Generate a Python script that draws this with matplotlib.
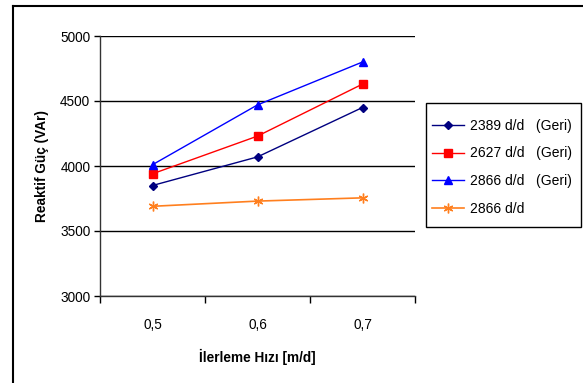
import matplotlib
matplotlib.use("Agg")
import matplotlib.pyplot as plt
from matplotlib.lines import Line2D
from matplotlib.patches import Rectangle

plt.rcParams['font.family'] = ['Liberation Sans', 'DejaVu Sans']

categories = ["0,5", "0,6", "0,7"]
s1 = [3850, 4070, 4450]   # 2389 d/d (Geri)
s2 = [3940, 4230, 4630]   # 2627 d/d (Geri)
s3 = [4010, 4470, 4800]   # 2866 d/d (Geri)
s4 = [3690, 3730, 3755]   # 2866 d/d
labels = ["2389 d/d   (Geri)", "2627 d/d   (Geri)", "2866 d/d   (Geri)", "2866 d/d"]
yticks = [3000, 3500, 4000, 4500, 5000]

W, H = 583, 383
fig = plt.figure(figsize=(W/100, H/100), dpi=100)
ax = fig.add_axes([100/W, 1-296/H, 315/W, 260/H])

x = list(range(len(categories)))
ax.plot(x, s1, color='#000080', marker='D', markersize=4.5, lw=1, label=labels[0])
ax.plot(x, s2, color='#ff0000', marker='s', markersize=5.5, lw=1, label=labels[1])
ax.plot(x, s3, color='#0000ff', marker='^', markersize=6, lw=1, label=labels[2])
ax.plot(x, s4, color='#ff7f1e', marker=(6, 2, 0), markersize=7, lw=1.2, label=labels[3])

ax.set_xlim(-0.5, 2.5)
ax.set_ylim(3000, 5000)
ax.set_yticks(yticks)
ax.set_yticklabels([str(v) for v in yticks], fontsize=9.8)
ax.yaxis.grid(True, color='black', lw=1)
ax.set_axisbelow(True)

ax.set_xticks([-0.5, 0.5, 1.5, 2.5])
ax.set_xticklabels([])
ax.set_xticks(x, minor=True)
ax.set_xticklabels(categories, minor=True, fontsize=9.8)
ax.tick_params(axis='x', which='minor', length=0, pad=16)
ax.tick_params(axis='x', which='major', length=5, direction='out', width=1)
ax.tick_params(axis='y', length=4, direction='out', width=1, pad=3)

for sp in ['top', 'right']:
    ax.spines[sp].set_visible(False)
for sp in ['left', 'bottom']:
    ax.spines[sp].set_color('#333333')
    ax.spines[sp].set_linewidth(1)

ax.set_ylabel("Reaktif Güç (VAr)", fontsize=9.8, fontweight='bold', labelpad=8)
ax.set_xlabel("İlerleme Hızı [m/d]", fontsize=9.8, fontweight='bold', labelpad=12)

# legend frame drawn separately
fig.add_artist(Rectangle((426/W, 1-227/H), 155/W, 124/H, transform=fig.transFigure,
                         fill=False, edgecolor='black', lw=1))
leg = fig.legend(loc='upper left', bbox_to_anchor=(426/W, 1-113/H), fontsize=10,
                 frameon=False, borderpad=0.4, borderaxespad=0, labelspacing=1.0,
                 handlelength=2.3, handletextpad=0.45)

# outer chart border
fig.add_artist(Line2D([13/W, 13/W], [0, 1-6/H], transform=fig.transFigure, color='black', lw=1.5))
fig.add_artist(Line2D([13/W, 1], [1-6/H, 1-6/H], transform=fig.transFigure, color='black', lw=1.5))

fig.savefig("out.png", dpi=100)
